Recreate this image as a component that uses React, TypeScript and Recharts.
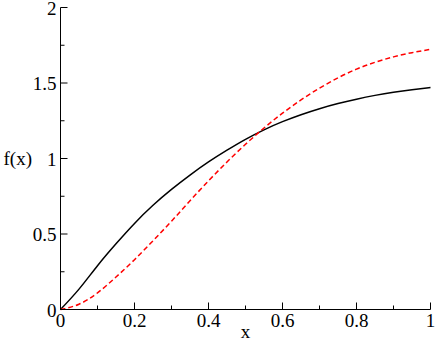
import { LineChart, Line, XAxis, YAxis, Label } from "recharts";

const xs = [0, 0.05, 0.1, 0.15, 0.2, 0.25, 0.3, 0.35, 0.4, 0.45, 0.5, 0.55, 0.6, 0.65, 0.7, 0.75, 0.8, 0.85, 0.9, 0.95, 1];
// solid black curve
const solid = [0, 0.135, 0.29, 0.435, 0.57, 0.69, 0.795, 0.89, 0.977, 1.055, 1.127, 1.19, 1.244, 1.29, 1.33, 1.364, 1.393, 1.418, 1.439, 1.456, 1.47];
// dashed red curve
const dashed = [0, 0.035, 0.11, 0.215, 0.33, 0.455, 0.585, 0.72, 0.852, 0.977, 1.094, 1.202, 1.3, 1.388, 1.466, 1.534, 1.592, 1.637, 1.673, 1.701, 1.723];

const xMajor = [0, 0.2, 0.4, 0.6, 0.8, 1];
const xMinor = [0.1, 0.3, 0.5, 0.7, 0.9];
const yMajor = [0, 0.5, 1, 1.5, 2];
const yMinor = [0.25, 0.75, 1.25, 1.75];

const data = xs.map((x, i) => ({ x, f1: solid[i], f2: dashed[i] }));
const xTicks = [...xMajor, ...xMinor].sort((a, b) => a - b);
const yTicks = [...yMajor, ...yMinor].sort((a, b) => a - b);

const FONT = "'Liberation Serif', 'Times New Roman', 'DejaVu Serif', serif";
const FS = 19;
const isIn = (list: number[], v: number) => list.some((t) => Math.abs(t - v) < 1e-6);

function makeTick(side: "bottom" | "top" | "left" | "right") {
  return (props: any) => {
    const { x, y, payload } = props;
    const v = payload.value;
    const major = side === "bottom" || side === "top" ? isIn(xMajor, v) : isIn(yMajor, v);
    const len = major ? 7 : 4;
    let line;
    if (side === "bottom") line = <line x1={x} y1={y} x2={x} y2={y - len} stroke="#000" />;
    else if (side === "top") line = <line x1={x} y1={y} x2={x} y2={y + len} stroke="#000" />;
    else if (side === "left") line = <line x1={x} y1={y} x2={x + len} y2={y} stroke="#000" />;
    else line = <line x1={x} y1={y} x2={x - len} y2={y} stroke="#000" />;
    return (
      <g>
        {line}
        {major && side === "bottom" && (
          <text x={x} y={y + 17} textAnchor="middle" fill="#000" style={{ fontFamily: FONT, fontSize: FS }}>
            {String(v)}
          </text>
        )}
        {major && side === "left" && (
          <text x={x - 4} y={y} dy="0.38em" textAnchor="end" fill="#000" style={{ fontFamily: FONT, fontSize: FS }}>
            {String(v)}
          </text>
        )}
      </g>
    );
  };
}

export default function App() {
  return (
    <div style={{ position: "absolute", left: 0, top: 0, background: "#fff" }}>
      <LineChart width={436} height={340} data={data} margin={{ top: 7.5, right: 5.5, left: 0.5, bottom: 0 }}>
        <XAxis
          dataKey="x"
          type="number"
          domain={[0, 1]}
          ticks={xTicks}
          interval={0}
          height={30.5}
          tickSize={0}
          tickMargin={0}
          tick={makeTick("bottom")}
          axisLine={{ stroke: "#000" }}
        >
          <Label value="x" position="insideBottom" offset={2} fill="#000" style={{ fontFamily: FONT, fontSize: FS }} />
        </XAxis>
        <XAxis
          xAxisId="top"
          dataKey="x"
          type="number"
          orientation="top"
          domain={[0, 1]}
          ticks={xTicks}
          interval={0}
          height={0}
          tickSize={0}
          tickMargin={0}
          tick={makeTick("top")}
          axisLine={{ stroke: "#000" }}
        />
        <YAxis
          type="number"
          domain={[0, 2]}
          ticks={yTicks}
          interval={0}
          width={60}
          tickSize={0}
          tickMargin={0}
          tick={makeTick("left")}
          axisLine={{ stroke: "#000" }}
        >
          <Label value="f(x)" position="insideLeft" offset={3} angle={0} fill="#000" style={{ fontFamily: FONT, fontSize: FS }} />
        </YAxis>
        <YAxis
          yAxisId="right"
          type="number"
          orientation="right"
          domain={[0, 2]}
          ticks={yTicks}
          interval={0}
          width={0}
          tickSize={0}
          tickMargin={0}
          tick={makeTick("right")}
          axisLine={{ stroke: "#000" }}
        />
        <Line
          type="natural"
          dataKey="f1"
          stroke="#000"
          strokeWidth={1.5}
          dot={false}
          isAnimationActive={false}
        />
        <Line
          type="natural"
          dataKey="f2"
          stroke="#ff0000"
          strokeWidth={1.5}
          strokeDasharray="5 3"
          dot={false}
          isAnimationActive={false}
        />
      </LineChart>
    </div>
  );
}
